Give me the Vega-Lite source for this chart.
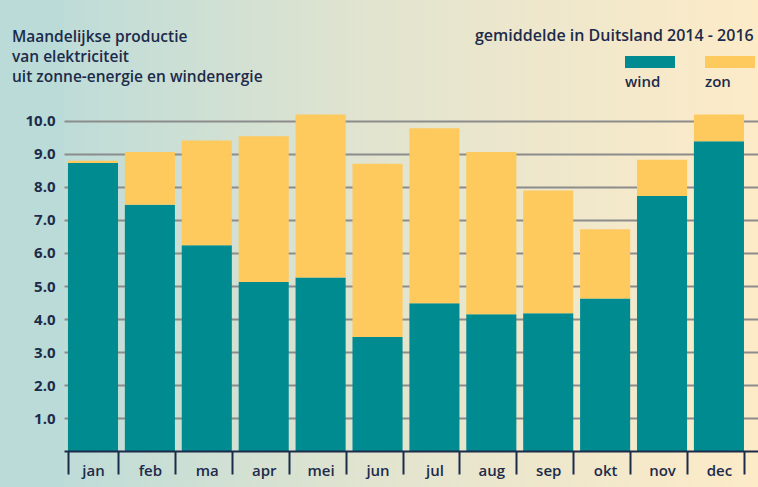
{
  "$schema": "https://vega.github.io/schema/vega-lite/v6.json",
  "width": 694,
  "height": 487,
  "autosize": {"type": "none"},
  "padding": {"left": 64, "top": 0, "right": 0, "bottom": 0},
  "background": "#badbd8",
  "config": {
    "font": "Open Sans",
    "view": {
      "stroke": null,
      "fill": {
        "gradient": "linear",
        "x1": 0, "y1": 0, "x2": 1, "y2": 0,
        "stops": [
          {"offset": 0, "color": "#bedcd8"},
          {"offset": 0.45, "color": "#e2e4cf"},
          {"offset": 1, "color": "#fdebc8"}
        ]
      }
    }
  },
  "title": {
    "text": ["Maandelijkse productie", "van elektriciteit", "uit zonne-energie en windenergie"],
    "anchor": "start",
    "frame": "bounds",
    "offset": -85,
    "dx": -13,
    "fontSize": 15.5,
    "fontWeight": 600,
    "color": "#1d2b4a",
    "lineHeight": 20
  },
  "data": {
    "values": [
      {"maand": "jan", "bron": "wind", "waarde": 8.72},
      {"maand": "jan", "bron": "zon", "waarde": 0.07},
      {"maand": "feb", "bron": "wind", "waarde": 7.46},
      {"maand": "feb", "bron": "zon", "waarde": 1.59},
      {"maand": "ma", "bron": "wind", "waarde": 6.23},
      {"maand": "ma", "bron": "zon", "waarde": 3.17},
      {"maand": "apr", "bron": "wind", "waarde": 5.12},
      {"maand": "apr", "bron": "zon", "waarde": 4.41},
      {"maand": "mei", "bron": "wind", "waarde": 5.26},
      {"maand": "mei", "bron": "zon", "waarde": 4.93},
      {"maand": "jun", "bron": "wind", "waarde": 3.46},
      {"maand": "jun", "bron": "zon", "waarde": 5.24},
      {"maand": "jul", "bron": "wind", "waarde": 4.48},
      {"maand": "jul", "bron": "zon", "waarde": 5.29},
      {"maand": "aug", "bron": "wind", "waarde": 4.15},
      {"maand": "aug", "bron": "zon", "waarde": 4.9},
      {"maand": "sep", "bron": "wind", "waarde": 4.18},
      {"maand": "sep", "bron": "zon", "waarde": 3.71},
      {"maand": "okt", "bron": "wind", "waarde": 4.62},
      {"maand": "okt", "bron": "zon", "waarde": 2.1},
      {"maand": "nov", "bron": "wind", "waarde": 7.72},
      {"maand": "nov", "bron": "zon", "waarde": 1.1},
      {"maand": "dec", "bron": "wind", "waarde": 9.38},
      {"maand": "dec", "bron": "zon", "waarde": 0.81}
    ]
  },
  "mark": {"type": "bar"},
  "encoding": {
    "x": {
      "field": "maand",
      "type": "nominal",
      "sort": ["jan", "feb", "ma", "apr", "mei", "jun", "jul", "aug", "sep", "okt", "nov", "dec"],
      "scale": {"paddingInner": 0.12, "paddingOuter": 0.158, "align": 0.22},
      "axis": {
        "orient": "bottom",
        "offset": -36,
        "title": null,
        "zindex": 1,
        "domainColor": "#1d2b4a",
        "domainWidth": 2,
        "tickBand": "extent",
        "tickSize": 23,
        "tickWidth": 2,
        "tickColor": "#1d2b4a",
        "labelAngle": 0,
        "labelBaseline": "middle",
        "labelPadding": -4,
        "labelFontSize": 15,
        "labelFontWeight": 600,
        "labelColor": "#1d2b4a"
      }
    },
    "y": {
      "field": "waarde",
      "type": "quantitative",
      "stack": "zero",
      "scale": {"domain": [-1.077, 13.65], "nice": false, "zero": false},
      "axis": {
        "title": null,
        "values": [1, 2, 3, 4, 5, 6, 7, 8, 9, 10],
        "format": ".1f",
        "grid": true,
        "gridColor": "#8c8c8c",
        "gridWidth": 2,
        "domain": false,
        "ticks": false,
        "labelPadding": 9,
        "labelFontSize": 15,
        "labelFontWeight": "bold",
        "labelColor": "#1d2b4a"
      }
    },
    "order": {"field": "bron", "sort": "ascending"},
    "color": {
      "field": "bron",
      "type": "nominal",
      "scale": {"domain": ["wind", "zon"], "range": ["#008b91", "#fec95d"]},
      "legend": {
        "orient": "none",
        "legendX": 561,
        "legendY": 37,
        "direction": "horizontal",
        "title": null,
        "symbolType": "M-1,-0.24H1V0.24H-1Z",
        "symbolSize": 2500,
        "symbolStrokeWidth": 0,
        "symbolOffset": 0,
        "labelFontSize": 15,
        "labelFontWeight": 600,
        "labelColor": "#1d2b4a",
        "labelOffset": 0,
        "columnPadding": 30,
        "padding": 0,
        "encode": {"labels": {"update": {"dx": {"value": -50}, "dy": {"value": 20}}}}
      }
    },
    "strokeDash": {
      "datum": "gemiddelde",
      "type": "nominal",
      "legend": {
        "orient": "none",
        "legendX": 411,
        "legendY": 28,
        "title": "gemiddelde in Duitsland 2014 - 2016",
        "titleFontSize": 16,
        "titleFontWeight": 600,
        "titleColor": "#1d2b4a",
        "titleLimit": 400,
        "titlePadding": 0,
        "padding": 0,
        "symbolOpacity": 0,
        "symbolSize": 1,
        "labelOpacity": 0,
        "labelFontSize": 1
      }
    }
  }
}
